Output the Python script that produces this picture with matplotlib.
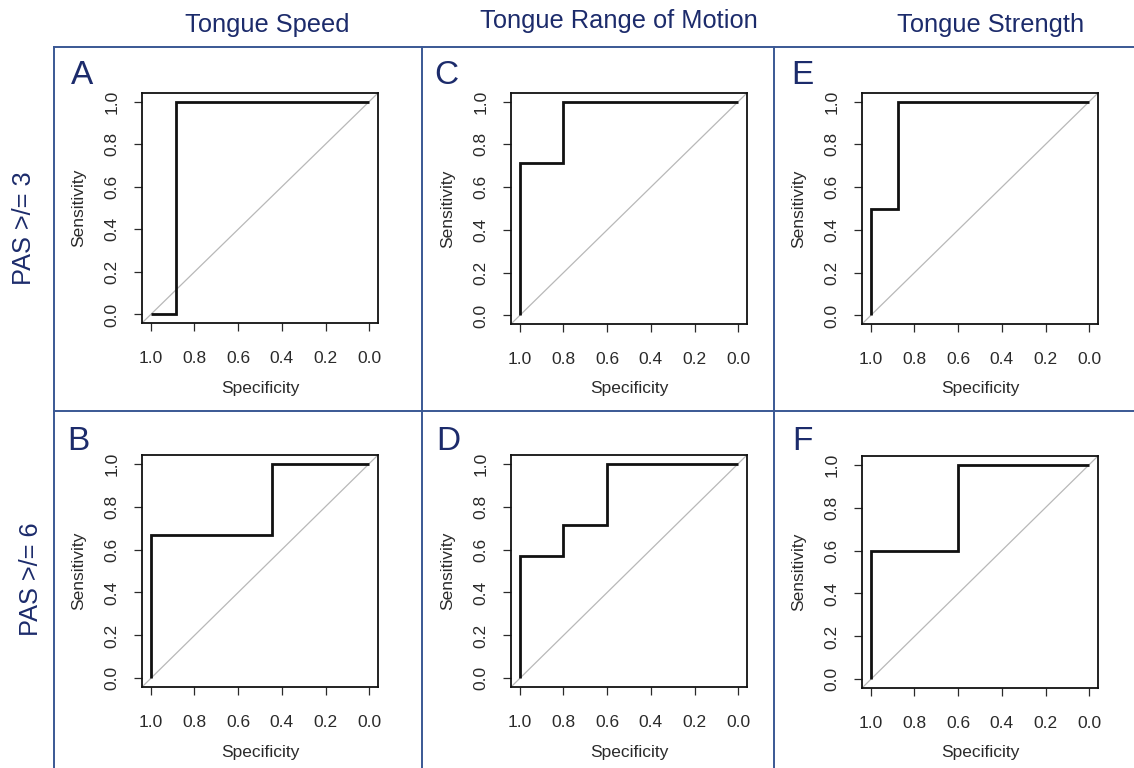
import matplotlib
matplotlib.use("Agg")
import matplotlib.pyplot as plt
from matplotlib.lines import Line2D

plt.rcParams['font.family'] = ['Liberation Sans', 'DejaVu Sans']

W, H = 1134, 768

col_titles = ["Tongue Speed", "Tongue Range of Motion", "Tongue Strength"]
row_labels = ["PAS >/= 3", "PAS >/= 6"]
panel_letters = ["A", "C", "E", "B", "D", "F"]

# ROC curves (specificity, sensitivity)
spec_A = [1.0, 0.885, 0.885, 0.0]
sens_A = [0.0, 0.0, 1.0, 1.0]
spec_C = [1.0, 1.0, 0.8, 0.8, 0.0]
sens_C = [0.0, 0.714, 0.714, 1.0, 1.0]
spec_E = [1.0, 1.0, 0.875, 0.875, 0.0]
sens_E = [0.0, 0.5, 0.5, 1.0, 1.0]
spec_B = [1.0, 1.0, 0.444, 0.444, 0.0]
sens_B = [0.0, 0.667, 0.667, 1.0, 1.0]
spec_D = [1.0, 1.0, 0.8, 0.8, 0.6, 0.6, 0.0]
sens_D = [0.0, 0.571, 0.571, 0.714, 0.714, 1.0, 1.0]
spec_F = [1.0, 1.0, 0.6, 0.6, 0.0]
sens_F = [0.0, 0.6, 0.6, 1.0, 1.0]

ticks = [1.0, 0.8, 0.6, 0.4, 0.2, 0.0]
tick_labels = ["1.0", "0.8", "0.6", "0.4", "0.2", "0.0"]
yticks = [0.0, 0.2, 0.4, 0.6, 0.8, 1.0]
ytick_labels = ["0.0", "0.2", "0.4", "0.6", "0.8", "1.0"]

curves = [(spec_A, sens_A), (spec_C, sens_C), (spec_E, sens_E),
          (spec_B, sens_B), (spec_D, sens_D), (spec_F, sens_F)]

# pixel boxes (left, right, top, bottom)
boxes = [(142, 378, 93, 323), (511, 747, 93, 324), (862, 1098, 93, 324),
         (142, 378, 455, 687), (511, 747, 455, 687), (862, 1098, 456, 688)]
letter_pos = [(71, 76), (434, 75), (791, 75), (67, 442), (436, 441), (792, 441)]

NAVY = "#1c2b6b"
GRID = "#3a5894"
TXT = "#2a2a2a"

fig = plt.figure(figsize=(W / 100, H / 100), dpi=100)
fig.patch.set_facecolor("white")

def px_rect(l, r, t, b):
    return [l / W, 1 - b / H, (r - l) / W, (b - t) / H]

for i, ((sp, se), (l, r, t, b)) in enumerate(zip(curves, boxes)):
    ax = fig.add_axes(px_rect(l, r, t, b))
    ax.set_xlim(1.04, -0.04)
    ax.set_ylim(-0.04, 1.04)
    ax.axline((1, 0), (0, 1), color="#b8b8b8", lw=0.9, zorder=1)
    ax.plot(sp, se, color="#111111", lw=2.0, solid_capstyle="butt",
            solid_joinstyle="miter", zorder=2)
    ax.set_xticks(ticks)
    ax.set_xticklabels(tick_labels)
    ax.set_yticks(yticks)
    ax.set_yticklabels(ytick_labels, rotation=90, va="center")
    ax.tick_params(direction="out", length=6, width=0.9, labelsize=12.5,
                   colors=TXT)
    ax.tick_params(axis="x", pad=14)
    ax.tick_params(axis="y", pad=10)
    for s in ax.spines.values():
        s.set_linewidth(1.3)
        s.set_color("#111111")
    ax.set_xlabel("Specificity", fontsize=12.5, color=TXT)
    ax.set_ylabel("Sensitivity", fontsize=12.5, color=TXT)
    ax.xaxis.set_label_coords(0.5, -65 / (b - t))
    ax.xaxis.label.set_va("center")
    ax.yaxis.set_label_coords(-63 / (r - l), 0.5)
    ax.yaxis.label.set_va("center")
    lx, ly = letter_pos[i]
    fig.text(lx / W, 1 - ly / H, panel_letters[i], fontsize=24, color=NAVY,
             ha="left", va="center")

# column titles
title_pos = [(267, 25), (619, 21), (991, 25)]
for txt, (x, y) in zip(col_titles, title_pos):
    fig.text(x / W, 1 - y / H, txt, fontsize=18.3, color=NAVY,
             ha="center", va="center")

# row labels
row_pos = [(24, 228), (31, 579)]
for txt, (x, y) in zip(row_labels, row_pos):
    fig.text(x / W, 1 - y / H, txt, fontsize=18.3, color=NAVY, rotation=90,
             ha="center", va="center")

# grid frame lines
def hline(y, x0, x1):
    fig.add_artist(Line2D([x0 / W, x1 / W], [1 - y / H, 1 - y / H],
                          color=GRID, lw=1.4, transform=fig.transFigure))

def vline(x, y0, y1):
    fig.add_artist(Line2D([x / W, x / W], [1 - y0 / H, 1 - y1 / H],
                          color=GRID, lw=1.4, transform=fig.transFigure))

hline(47, 54, W)
hline(411, 54, W)
vline(54, 47, H)
vline(422, 47, H)
vline(774, 47, H)

fig.savefig("out.png", dpi=100, facecolor="white")
